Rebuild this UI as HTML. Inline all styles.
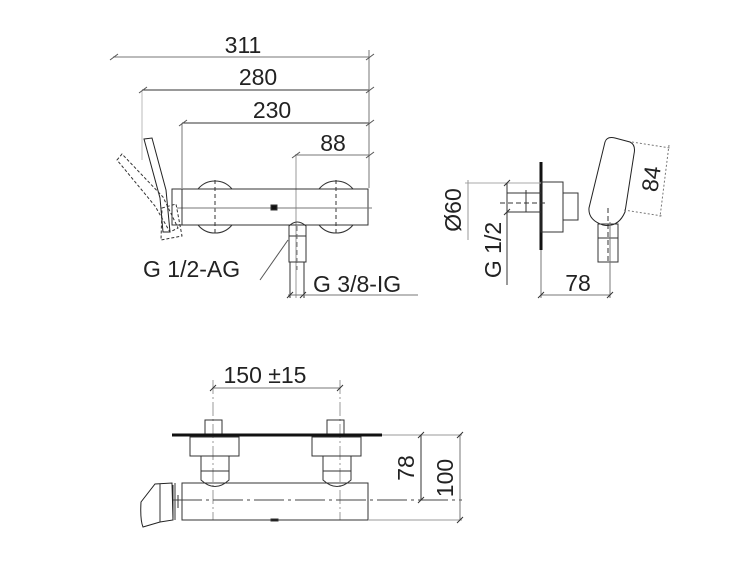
<!DOCTYPE html>
<html><head><style>
html,body{margin:0;padding:0;background:#fff}
svg{display:block}
text{font-family:"Liberation Sans",sans-serif;fill:#222}
</style></head><body>
<svg width="750" height="563" viewBox="0 0 750 563" xmlns="http://www.w3.org/2000/svg">
<g stroke="#333" stroke-width="1" fill="none">
<!-- TOP VIEW dimensions -->
<line x1="113" y1="57" x2="369" y2="57" stroke="#777"/>
<line x1="142" y1="90" x2="369" y2="90"/>
<line x1="182" y1="123" x2="369" y2="123"/>
<line x1="295" y1="155" x2="369" y2="155" stroke="#777"/>
<line x1="369" y1="50" x2="369" y2="188" stroke="#777"/>
<line x1="142" y1="90" x2="142" y2="160" stroke="#bbb"/>
<line x1="182" y1="123" x2="182" y2="188" stroke="#777"/>
<line x1="296" y1="155" x2="296" y2="298" stroke="#999"/>
<g stroke="#555">
<line x1="110" y1="60" x2="118" y2="54"/><line x1="366" y1="60" x2="374" y2="54"/>
<line x1="139" y1="93" x2="147" y2="87"/><line x1="366" y1="93" x2="374" y2="87"/>
<line x1="179" y1="126" x2="187" y2="120"/><line x1="366" y1="126" x2="374" y2="120"/>
<line x1="292" y1="158" x2="300" y2="152"/><line x1="366" y1="158" x2="374" y2="152"/>
</g>
<!-- knobs -->
<path d="M198 189 A22 22 0 0 1 232 189"/><path d="M198 225 A22 22 0 0 0 232 225"/>
<path d="M319 189 A22 22 0 0 1 353 189"/><path d="M319 225 A22 22 0 0 0 353 225"/>
<line x1="215" y1="180" x2="215" y2="233" stroke-dasharray="4,3"/>
<line x1="336" y1="180" x2="336" y2="233" stroke-dasharray="4,3"/>
<!-- body -->
<rect x="182" y="189" width="186" height="36"/>
<line x1="177" y1="208" x2="372" y2="208" stroke="#777"/>
<rect x="271" y="205" width="6" height="5" fill="#111"/>
<rect x="172" y="189" width="10" height="36"/>
<!-- lever -->
<path d="M144 139 L152 138 L166 190 L170 232 L163 232 L160 198 Z" stroke="#222"/>
<path d="M117 160 L122 154 L163 197 L178 228 L170 232 L155 206 Z" stroke-dasharray="3,2"/>
<path d="M162 208 L176 204 L182 236 L161 240 Z" stroke-dasharray="3,2"/>
<!-- outlet -->
<path d="M289 238 L289 226 Q297 218 306 226 L306 238"/>
<rect x="289" y="236" width="17" height="26"/>
<line x1="290" y1="262" x2="290" y2="298"/><line x1="304" y1="262" x2="304" y2="298"/>
<line x1="297" y1="226" x2="297" y2="270" stroke="#777" stroke-dasharray="5,3"/>
<line x1="260" y1="280" x2="288" y2="240" stroke="#555"/>
<line x1="288" y1="295" x2="418" y2="295" stroke="#777"/>
<line x1="287" y1="298" x2="293" y2="292"/><line x1="300" y1="298" x2="306" y2="292"/>

<!-- SIDE VIEW -->
<line x1="541" y1="162" x2="541" y2="250" stroke="#111" stroke-width="3"/>
<rect x="507" y="193" width="34" height="19"/>
<line x1="526" y1="190" x2="526" y2="212"/>
<rect x="541" y="182" width="22" height="50"/>
<rect x="563" y="193" width="15" height="27"/>
<line x1="578" y1="193" x2="578" y2="220"/>
<line x1="500" y1="203" x2="548" y2="203" stroke-dasharray="5,3"/>
<path d="M605 142 Q607 136 615 138 L630 142 Q636 145 634 154 L625 212 Q618 228 603 225 Q588 220 589 208 Z" stroke="#222"/>
<rect x="598" y="224" width="20" height="38"/>
<line x1="598" y1="238" x2="618" y2="238"/>
<line x1="608" y1="208" x2="608" y2="262" stroke-dasharray="5,3"/>
<!-- side dims -->
<line x1="465" y1="183" x2="541" y2="183" stroke="#aaa"/>
<line x1="468" y1="180" x2="468" y2="240" stroke="#999"/>
<line x1="507" y1="183" x2="507" y2="285"/>
<line x1="504" y1="186" x2="510" y2="180"/><line x1="504" y1="215" x2="510" y2="209"/>
<line x1="541" y1="250" x2="541" y2="298" stroke="#777"/>
<line x1="610" y1="222" x2="610" y2="298" stroke="#777"/>
<line x1="541" y1="295" x2="610" y2="295" stroke="#777"/>
<line x1="538" y1="298" x2="544" y2="292"/><line x1="607" y1="298" x2="613" y2="292"/>
<line x1="632" y1="142" x2="670" y2="148" stroke="#777" stroke-dasharray="2,2"/>
<line x1="624" y1="210" x2="662" y2="216" stroke="#777" stroke-dasharray="2,2"/>
<line x1="669" y1="145" x2="660" y2="217" stroke="#777" stroke-dasharray="2,2"/>

<!-- BOTTOM VIEW -->
<line x1="213" y1="388" x2="340" y2="388" stroke="#777"/>
<line x1="213" y1="380" x2="213" y2="520" stroke="#999" stroke-dasharray="14,3,2,3"/>
<line x1="340" y1="380" x2="340" y2="520" stroke="#999" stroke-dasharray="14,3,2,3"/>
<line x1="210" y1="391" x2="216" y2="385"/><line x1="337" y1="391" x2="343" y2="385"/>
<rect x="205" y="420" width="17" height="15"/><rect x="327" y="420" width="17" height="15"/>
<line x1="172" y1="435" x2="382" y2="435" stroke="#111" stroke-width="3"/>
<rect x="190" y="437" width="49" height="19"/><rect x="312" y="437" width="49" height="19"/>
<path d="M201 456 L201 480 Q215 493 229 480 L229 456"/><line x1="201" y1="471" x2="229" y2="471"/>
<path d="M323 456 L323 480 Q337 493 351 480 L351 456"/><line x1="323" y1="471" x2="351" y2="471"/>
<rect x="182" y="483" width="186" height="37"/>
<line x1="175" y1="483" x2="175" y2="520"/><line x1="173" y1="485" x2="173" y2="518"/>
<line x1="172" y1="500" x2="462" y2="500" stroke="#444" stroke-dasharray="30,4,3,4"/>
<line x1="178" y1="495" x2="178" y2="508"/>
<rect x="271" y="519" width="7" height="2" fill="#111"/>
<path d="M155 484 L172 483 L173 520 L160 522 L143 527 Q140 520 141 502 Z" stroke="#222"/>
<line x1="160" y1="484" x2="160" y2="522"/>
<line x1="382" y1="435" x2="462" y2="435" stroke="#999"/>
<line x1="368" y1="520" x2="462" y2="520" stroke="#999"/>
<line x1="421" y1="435" x2="421" y2="500"/>
<line x1="460" y1="435" x2="460" y2="520" stroke="#777"/>
<line x1="418" y1="438" x2="424" y2="432"/><line x1="418" y1="503" x2="424" y2="497"/>
<line x1="457" y1="438" x2="463" y2="432"/><line x1="457" y1="523" x2="463" y2="517"/>
</g>
<g font-size="23">
<text x="243" y="53" text-anchor="middle">311</text>
<text x="258" y="85" text-anchor="middle">280</text>
<text x="272" y="118" text-anchor="middle">230</text>
<text x="333" y="151" text-anchor="middle">88</text>
<text x="143" y="277">G 1/2-AG</text>
<text x="313" y="292">G 3/8-IG</text>
<text x="578" y="291" text-anchor="middle">78</text>
<text transform="translate(461,210) rotate(-90)" text-anchor="middle">Ø60</text>
<text transform="translate(501,250) rotate(-90)" text-anchor="middle">G 1/2</text>
<text transform="translate(659,180) rotate(-82)" text-anchor="middle">84</text>
<text x="265" y="383" text-anchor="middle">150 ±15</text>
<text transform="translate(414,468) rotate(-90)" text-anchor="middle">78</text>
<text transform="translate(453,478) rotate(-90)" text-anchor="middle">100</text>
</g>
</svg>
</body></html>
